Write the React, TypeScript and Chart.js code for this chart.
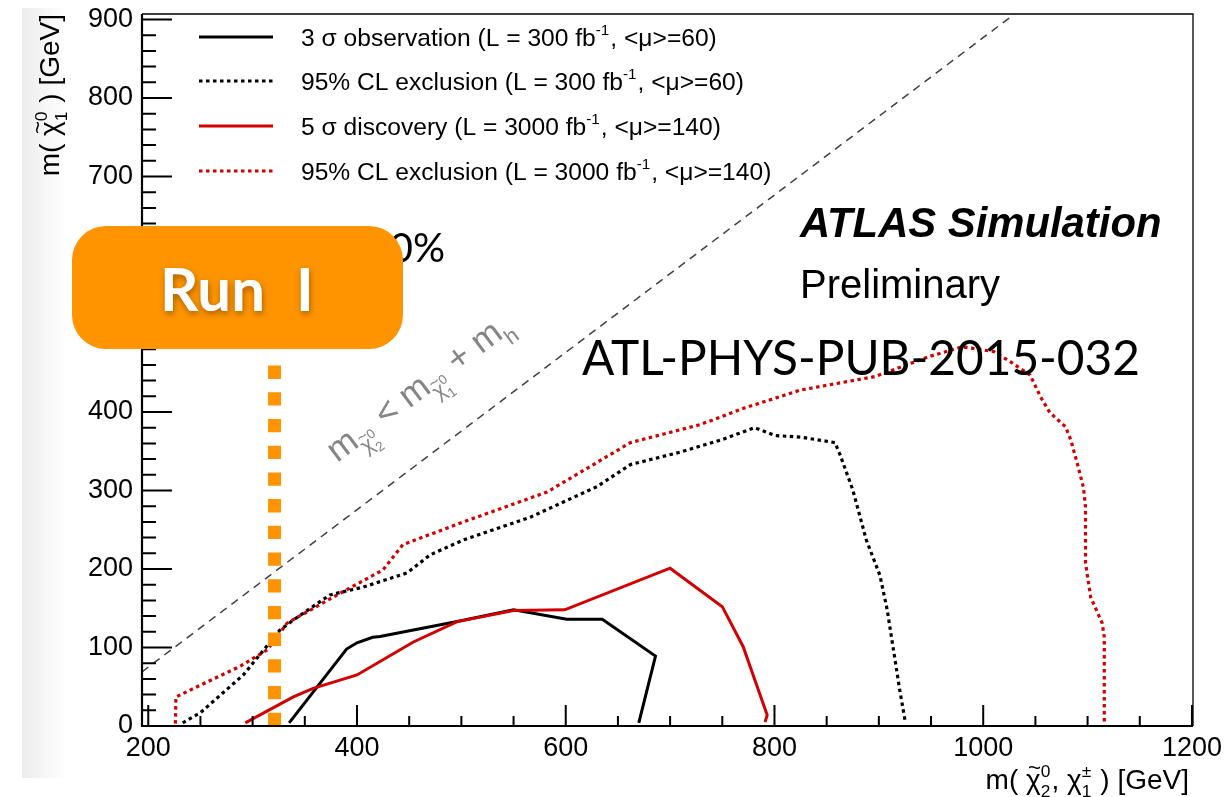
import React, { useEffect, useRef } from "react";
import { Chart, registerables } from "chart.js";

Chart.register(...registerables);

// ---------------- Data ----------------
const xTickValues = [200, 400, 600, 800, 1000, 1200];
const yTickValues = [0, 100, 200, 300, 400, 500, 600, 700, 800, 900];

// 3 sigma observation, L = 300 fb-1
const obs3SigmaX = [335, 390, 400, 415, 422, 496, 550, 601, 635, 686, 670];
const obs3SigmaY = [4, 98, 106, 113, 114, 133, 148, 136, 136, 89, 4];

// 95% CL exclusion, L = 300 fb-1
const excl300X = [233, 250, 291, 326, 339, 374, 406, 448, 470, 502, 566, 630, 662, 710, 748, 781, 801, 825, 858, 863, 875, 888, 901, 908, 914, 920, 925];
const excl300Y = [4, 17, 65, 122, 135, 167, 177, 195, 218, 237, 266, 305, 333, 349, 364, 380, 370, 368, 361, 345, 301, 237, 192, 148, 97, 46, 8];

// 5 sigma discovery, L = 3000 fb-1
const disc5SigmaX = [293, 339, 358, 400, 454, 496, 550, 599, 700, 750, 770, 793, 791];
const disc5SigmaY = [4, 37, 48, 65, 107, 133, 147, 148, 201, 152, 101, 14, 5];

// 95% CL exclusion, L = 3000 fb-1
const excl3000X = [226, 226.5, 250, 288, 314, 333, 377, 425, 444, 502, 582, 662, 729, 771, 825, 896, 949, 980, 1010, 1026, 1045, 1055, 1064, 1079, 1084, 1090, 1096, 1098, 1098, 1103, 1114, 1116, 1116];
const excl3000Y = [3, 37, 52, 76, 97, 131, 164, 199, 231, 260, 298, 361, 384, 405, 428, 445, 471, 483, 477, 464, 447, 419, 399, 381, 364, 335, 304, 279, 208, 164, 131, 113, 5];

// kinematic limit m(chi2) = m(chi1) + m_h
const kinematicX = [194, 1030];
const kinematicY = [69, 907];

// Run I reach marker
const runOneX = [321, 321];
const runOneY = [0, 460];

const seriesLabels = [
  "3 σ observation (L = 300 fb^{-1}, <μ>=60)",
  "95% CL exclusion (L = 300 fb^{-1}, <μ>=60)",
  "5 σ discovery (L = 3000 fb^{-1}, <μ>=140)",
  "95% CL exclusion (L = 3000 fb^{-1}, <μ>=140)",
];
const xAxisTitle = "m( ~{χ}_{2}^{0}, χ_{1}^{±} ) [GeV]";
const yAxisTitle = "m( ~{χ}_{1}^{0} ) [GeV]";
const kinematicLabel = "m_{~{χ}_{2}^{0}} < m_{~{χ}_{1}^{0}} + m_{h}";
const atlasLabel = "ATLAS";
const simulationLabel = "Simulation";
const preliminaryLabel = "Preliminary";
const noteLabel = "ATL-PHYS-PUB-2015-032";
const hiddenNote = "30%";
const runLabelA = "Run";
const runLabelB = "I";

// ---------------- Styling ----------------
const ROOT_FONT = '"Liberation Sans", Arial, Helvetica, sans-serif';
const GILL_FONT = 'Lato, "Open Sans", sans-serif';
const RED = "#d20000";
const ORANGE = "#ff9400";

const pts = (xs: number[], ys: number[]) => xs.map((x, i) => ({ x, y: ys[i] }));

// ------------- rich text (sub/superscripts, tilde) -------------
type RNode = { t: "text"; s: string } | { t: "sub" | "sup" | "tilde"; c: RNode[] };

function parseRich(src: string): RNode[] {
  let i = 0;
  const seq = (): RNode[] => {
    const out: RNode[] = [];
    let buf = "";
    const flush = () => {
      if (buf) {
        out.push({ t: "text", s: buf });
        buf = "";
      }
    };
    while (i < src.length) {
      const ch = src[i];
      if (ch === "}") break;
      if ((ch === "_" || ch === "^" || ch === "~") && src[i + 1] === "{") {
        flush();
        i += 2;
        const c = seq();
        i++;
        out.push({ t: ch === "_" ? "sub" : ch === "^" ? "sup" : "tilde", c });
      } else {
        buf += ch;
        i++;
      }
    }
    flush();
    return out;
  };
  return seq();
}

function renderRich(
  ctx: CanvasRenderingContext2D,
  nodes: RNode[],
  x: number,
  y: number,
  size: number,
  family: string,
  weight: string,
  draw: boolean
): number {
  let cx = x;
  let k = 0;
  while (k < nodes.length) {
    const n = nodes[k];
    if (n.t === "text") {
      ctx.font = `${weight} ${size}px ${family}`;
      const w = ctx.measureText(n.s).width;
      if (draw) ctx.fillText(n.s, cx, y);
      cx += w;
      k++;
    } else if (n.t === "tilde") {
      const w = renderRich(ctx, n.c, cx, y, size, family, weight, draw);
      if (draw) {
        ctx.font = `${weight} ${size * 0.8}px ${family}`;
        const tw = ctx.measureText("~").width;
        ctx.fillText("~", cx + (w - tw) / 2 + size * 0.04, y - size * 0.5);
      }
      cx += w;
      k++;
    } else {
      const s2 = size * 0.62;
      const off = (m: RNode) => (m.t === "sub" ? size * 0.3 : -size * 0.42);
      const w1 = renderRich(ctx, (n as any).c, cx, y + off(n), s2, family, weight, draw);
      let w = w1;
      const nx = nodes[k + 1];
      if (nx && (nx.t === "sub" || nx.t === "sup") && nx.t !== n.t) {
        const w2 = renderRich(ctx, (nx as any).c, cx, y + off(nx), s2, family, weight, draw);
        w = Math.max(w1, w2);
        k += 2;
      } else k++;
      cx += w + size * 0.04;
    }
  }
  return cx - x;
}

const overlayPlugin = {
  id: "atlasOverlay",
  afterDatasetsDraw(chart: any) {
    const { ctx, chartArea: a, scales } = chart;
    const xs = scales.x;
    const ys = scales.y;
    ctx.save();
    ctx.textAlign = "left";
    ctx.textBaseline = "alphabetic";
    ctx.setLineDash([]);
    ctx.lineCap = "butt";

    // frame
    ctx.strokeStyle = "#000";
    ctx.lineWidth = 1.3;
    ctx.beginPath();
    ctx.moveTo(a.left, a.top);
    ctx.lineTo(a.right, a.top);
    ctx.lineTo(a.right, a.bottom);
    ctx.stroke();
    ctx.lineWidth = 2.2;
    ctx.beginPath();
    ctx.moveTo(a.left, a.top);
    ctx.lineTo(a.left, a.bottom);
    ctx.lineTo(a.right, a.bottom);
    ctx.stroke();

    // inward ticks
    ctx.lineWidth = 2;
    ctx.beginPath();
    for (let v = 200; v <= 1200; v += 50) {
      const px = xs.getPixelForValue(v);
      const len = v % 200 === 0 ? 21 : 10;
      ctx.moveTo(px, a.bottom);
      ctx.lineTo(px, a.bottom - len);
    }
    for (let v = 0; v <= 900; v += 20) {
      const py = ys.getPixelForValue(v);
      const len = v % 100 === 0 ? 30 : 14;
      ctx.moveTo(a.left, py);
      ctx.lineTo(a.left + len, py);
    }
    ctx.stroke();

    // legend
    ctx.fillStyle = "#000";
    const legendYs = [37, 81, 126, 171];
    const legendSets = chart.data.datasets.filter((d: any) => d.showInLegend);
    legendSets.forEach((d: any, i: number) => {
      const ly = legendYs[i];
      ctx.strokeStyle = d.borderColor;
      ctx.lineWidth = d.borderWidth;
      ctx.setLineDash(d.borderDash || []);
      ctx.beginPath();
      ctx.moveTo(199, ly);
      ctx.lineTo(273, ly);
      ctx.stroke();
      ctx.setLineDash([]);
      ctx.fillStyle = "#000";
      renderRich(ctx, parseRich(d.label), 301, ly + 8.5, 24.6, ROOT_FONT, "normal", true);
    });

    // axis titles
    ctx.fillStyle = "#000";
    const yt = parseRich(yAxisTitle);
    const ytw = renderRich(ctx, yt, 0, 0, 28, ROOT_FONT, "normal", false);
    ctx.save();
    ctx.translate(59, 14);
    ctx.rotate(-Math.PI / 2);
    renderRich(ctx, yt, -ytw, 0, 28, ROOT_FONT, "normal", true);
    ctx.restore();

    const xt = parseRich(xAxisTitle);
    const xtw = renderRich(ctx, xt, 0, 0, 28, ROOT_FONT, "normal", false);
    renderRich(ctx, xt, 1189 - xtw, 789, 28, ROOT_FONT, "normal", true);

    // kinematic-limit label
    const p1x = xs.getPixelForValue(400), p1y = ys.getPixelForValue(275);
    const p2x = xs.getPixelForValue(800), p2y = ys.getPixelForValue(675);
    const ang = Math.atan2(p1y - p2y, p2x - p1x);
    ctx.save();
    ctx.translate(xs.getPixelForValue(381), ys.getPixelForValue(335));
    ctx.rotate(-ang);
    ctx.fillStyle = "#858585";
    renderRich(ctx, parseRich(kinematicLabel), 0, 0, 35, ROOT_FONT, "normal", true);
    ctx.restore();

    // ATLAS labels
    ctx.fillStyle = "#000";
    ctx.font = `italic bold 41.8px ${ROOT_FONT}`;
    ctx.fillText(atlasLabel + " " + simulationLabel, 800, 237);
    ctx.font = `normal 40px ${ROOT_FONT}`;
    ctx.fillText(preliminaryLabel, 800, 298);

    // publication note (Gill-Sans-like: taller, narrower)
    ctx.font = `normal 49px ${GILL_FONT}`;
    const nw = ctx.measureText(noteLabel).width;
    ctx.save();
    ctx.translate(582, 375);
    ctx.scale(558 / nw, 1);
    ctx.fillText(noteLabel, 0, 0);
    ctx.restore();
    ctx.restore();
  },
  afterDraw(chart: any) {
    const { ctx } = chart;
    ctx.save();
    ctx.setLineDash([]);
    // partially hidden annotation
    ctx.fillStyle = "#000";
    ctx.textAlign = "right";
    ctx.textBaseline = "alphabetic";
    ctx.font = `normal 40px ${GILL_FONT}`;
    ctx.fillText(hiddenNote, 445, 262);

    // Run I box
    ctx.fillStyle = ORANGE;
    ctx.beginPath();
    ctx.roundRect(72, 226, 331, 123, 34);
    ctx.fill();

    ctx.textAlign = "left";
    ctx.font = `bold 100px ${GILL_FONT}`;
    const rw = ctx.measureText(runLabelA).width;
    const rs = (100 * 105) / rw;
    ctx.font = `bold ${rs}px ${GILL_FONT}`;
    ctx.shadowColor = "rgba(0,0,0,0.35)";
    ctx.shadowBlur = 6;
    ctx.shadowOffsetX = 1;
    ctx.shadowOffsetY = 3;
    ctx.fillStyle = "#ffffff";
    ctx.fillText(runLabelA, 160, 311);
    ctx.fillText(runLabelB, 296, 311);
    ctx.restore();
  },
};

export default function App() {
  const canvasRef = useRef<HTMLCanvasElement | null>(null);

  useEffect(() => {
    const canvas = canvasRef.current;
    if (!canvas) return;
    const chart = new Chart(canvas, {
      type: "line",
      data: {
        datasets: [
          {
            label: "Run I",
            data: pts(runOneX, runOneY),
            borderColor: ORANGE,
            borderWidth: 13,
            borderDash: [13.3, 13.4],
            borderCapStyle: "butt",
            pointRadius: 0,
            fill: false,
            order: 0,
          },
          {
            label: seriesLabels[0],
            data: pts(obs3SigmaX, obs3SigmaY),
            borderColor: "#000000",
            borderWidth: 3,
            pointRadius: 0,
            fill: false,
            order: 2,
            showInLegend: true,
          },
          {
            label: seriesLabels[1],
            data: pts(excl300X, excl300Y),
            borderColor: "#000000",
            borderWidth: 3.2,
            borderDash: [3.5, 3.5],
            borderCapStyle: "butt",
            pointRadius: 0,
            fill: false,
            order: 3,
            showInLegend: true,
          },
          {
            label: seriesLabels[2],
            data: pts(disc5SigmaX, disc5SigmaY),
            borderColor: RED,
            borderWidth: 3,
            pointRadius: 0,
            fill: false,
            order: 1,
            showInLegend: true,
          },
          {
            label: seriesLabels[3],
            data: pts(excl3000X, excl3000Y),
            borderColor: RED,
            borderWidth: 3.2,
            borderDash: [3.5, 3.5],
            borderCapStyle: "butt",
            pointRadius: 0,
            fill: false,
            order: 4,
            showInLegend: true,
          },
          {
            label: "kinematic limit",
            data: pts(kinematicX, kinematicY),
            borderColor: "#404040",
            borderWidth: 1.5,
            borderDash: [8, 6],
            pointRadius: 0,
            fill: false,
            order: 5,
          },
        ] as any,
      },
      options: {
        animation: false,
        responsive: false,
        events: [],
        layout: { padding: { top: 14, right: 35, left: 0, bottom: 0 } },
        plugins: {
          legend: { display: false },
          tooltip: { enabled: false },
          title: { display: false },
        },
        elements: { line: { tension: 0 }, point: { radius: 0 } },
        scales: {
          x: {
            type: "linear",
            min: 194,
            max: 1201,
            position: "bottom",
            offset: false,
            grid: { display: false, drawTicks: false },
            border: { display: false },
            ticks: {
              font: { family: ROOT_FONT, size: 27 },
              color: "#000",
              padding: 6,
              maxRotation: 0,
              autoSkip: false,
              callback: (v: any) => String(v),
            },
            afterBuildTicks: (s: any) => {
              s.ticks = xTickValues.map((v) => ({ value: v }));
            },
            afterFit: (s: any) => {
              s.height = 71;
              s.paddingLeft = 0;
              s.paddingRight = 0;
            },
          },
          y: {
            type: "linear",
            min: 0,
            max: 907,
            grid: { display: false, drawTicks: false },
            border: { display: false },
            ticks: {
              font: { family: ROOT_FONT, size: 27 },
              color: "#000",
              padding: 9,
              autoSkip: false,
              callback: (v: any) => String(v),
            },
            afterBuildTicks: (s: any) => {
              s.ticks = yTickValues.map((v) => ({ value: v }));
            },
            afterFit: (s: any) => {
              s.width = 142;
              s.paddingTop = 0;
              s.paddingBottom = 0;
            },
          },
        },
      } as any,
      plugins: [overlayPlugin as any],
    });
    return () => chart.destroy();
  }, []);

  return (
    <div style={{ position: "fixed", left: 0, top: 0, width: 1228, height: 797, background: "#ffffff" }}>
      <div
        style={{
          position: "absolute",
          left: 22,
          top: 8,
          width: 44,
          height: 770,
          background: "linear-gradient(to right, #ececec, rgba(255,255,255,0))",
        }}
      />
      <canvas ref={canvasRef} width={1228} height={797} style={{ position: "absolute", left: 0, top: 0 }} />
    </div>
  );
}
